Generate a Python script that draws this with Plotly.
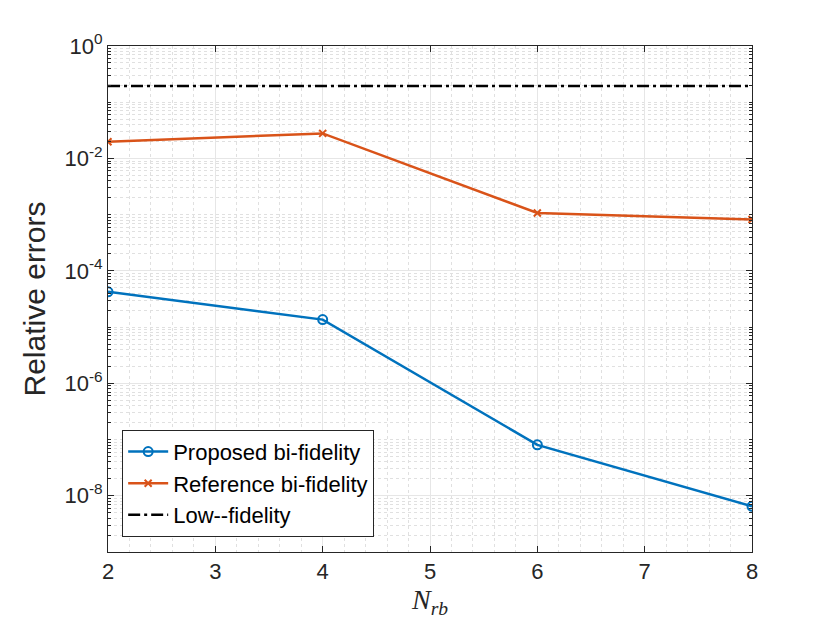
import plotly.graph_objects as go

# data
n_rb = [2, 4, 6, 8]
proposed_err = [4.25e-5, 1.36e-5, 8.05e-8, 6.5e-9]
reference_err = [1.98e-2, 2.79e-2, 1.07e-3, 8.2e-4]
low_fid_err = [0.195, 0.195, 0.195, 0.195]

y_ticks = [1e-8, 1e-6, 1e-4, 1e-2, 1e0]
y_ticktext = ["10<sup>-8</sup>", "10<sup>-6</sup>", "10<sup>-4</sup>", "10<sup>-2</sup>", "10<sup>0</sup>"]
x_ticks = [2, 3, 4, 5, 6, 7, 8]

# minor grid positions (1..9 x 10^k) for the log axis
y_minor = [m * 10.0 ** k for k in range(-9, 0) for m in range(1, 10)]
y_minor = [v for v in y_minor if v not in y_ticks]

blue = "#0072BD"
orange = "#D95319"
axis_col = "#262626"
font_main = "Liberation Sans, Arial, sans-serif"

fig = go.Figure()

fig.add_trace(go.Scatter(
    x=n_rb, y=proposed_err, mode="lines+markers", name="Proposed bi-fidelity",
    line=dict(color=blue, width=2.5),
    marker=dict(symbol="circle-open", size=9, color=blue, line=dict(width=2)),
))
fig.add_trace(go.Scatter(
    x=n_rb, y=reference_err, mode="lines+markers", name="Reference bi-fidelity",
    line=dict(color=orange, width=2.5),
    marker=dict(symbol="x-thin-open", size=7, color=orange, line=dict(width=2, color=orange)),
))
fig.add_trace(go.Scatter(
    x=n_rb, y=low_fid_err, mode="lines", name="Low--fidelity",
    line=dict(color="black", width=2.5, dash="12px,4px,3px,4px"),
))

# page body adds 8px, so the figure is a bit smaller than the window
fig.update_layout(
    width=822, height=615,
    margin=dict(l=100, r=78, t=38, b=71),
    plot_bgcolor="white", paper_bgcolor="white",
    font=dict(family=font_main, size=22, color=axis_col),
    legend=dict(
        x=0.022, y=0.03, xanchor="left", yanchor="bottom",
        bgcolor="white", bordercolor=axis_col, borderwidth=1,
        font=dict(size=22, color="black"), tracegroupgap=0,
        itemwidth=40,
    ),
)

fig.update_xaxes(
    range=[2, 8], tickvals=x_ticks, automargin=False,
    showline=True, linecolor=axis_col, linewidth=1, mirror="ticks",
    ticks="inside", ticklen=6, tickcolor=axis_col,
    showgrid=True, gridcolor="#e6e6e6", gridwidth=1,
    zeroline=False,
    minor=dict(dtick=0.2, showgrid=True, gridcolor="#e0e0e0", griddash="dot", gridwidth=1),
    title=dict(text="<i>N</i><sub><i>rb</i></sub>",
               font=dict(family="Liberation Serif, Times New Roman, serif", size=28, color=axis_col),
               standoff=4),
)

fig.update_yaxes(
    type="log", range=[-9, 0], tickvals=y_ticks, ticktext=y_ticktext, automargin=False,
    showline=True, linecolor=axis_col, linewidth=1, mirror="ticks",
    ticks="inside", ticklen=6, tickcolor=axis_col,
    showgrid=True, gridcolor="#e6e6e6", gridwidth=1,
    zeroline=False,
    minor=dict(tickvals=y_minor, ticks="inside", ticklen=3, tickcolor=axis_col,
               showgrid=True, gridcolor="#e0e0e0", griddash="dot", gridwidth=1),
    title=dict(text="Relative errors", font=dict(size=30, color=axis_col), standoff=9),
)

fig.write_html("out.html")
